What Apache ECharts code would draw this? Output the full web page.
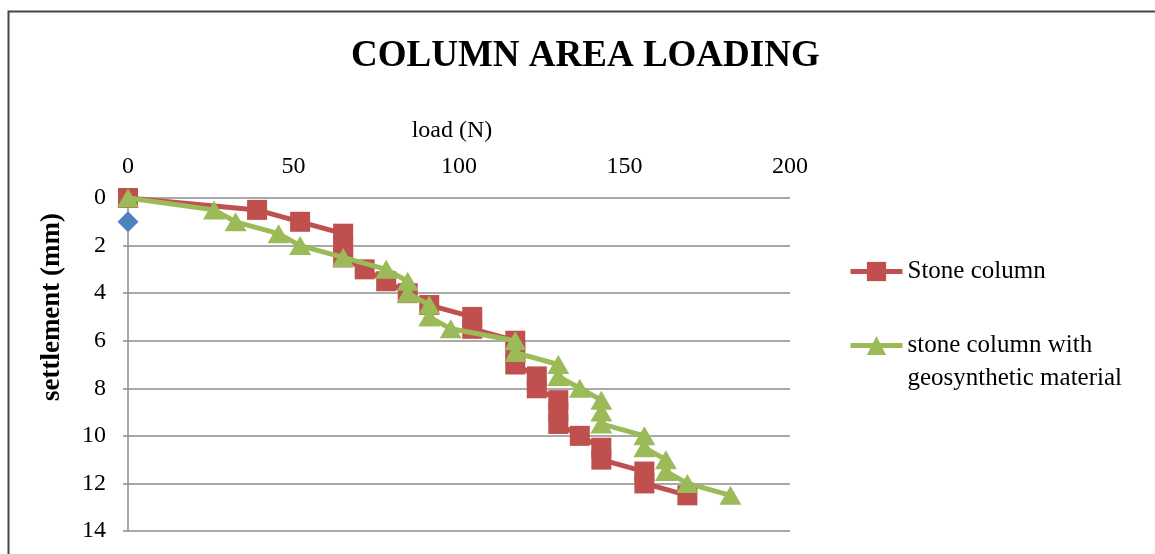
<!DOCTYPE html>
<html>
<head>
<meta charset="utf-8">
<script src="https://cdn.jsdelivr.net/npm/echarts@6/dist/echarts.min.js"></script>
<style>
  html, body { margin: 0; padding: 0; background: #fff; }
  #chart { width: 1155px; height: 554px; }
</style>
</head>
<body>
<div id="chart"></div>
<script>
// Settlement readings (mm), taken every 0.5 mm
const settlement = [0, 0.5, 1, 1.5, 2, 2.5, 3, 3.5, 4, 4.5, 5, 5.5, 6, 6.5, 7, 7.5, 8, 8.5, 9, 9.5, 10, 10.5, 11, 11.5, 12, 12.5];
// Load (N) for the plain stone column
const loadStone = [0, 39, 52, 65, 65, 65, 71.5, 78, 84.5, 91, 104, 104, 117, 117, 117, 123.5, 123.5, 130, 130, 130, 136.5, 143, 143, 156, 156, 169];
// Load (N) for the stone column with geosynthetic material
const loadGeo = [0, 26, 32.5, 45.5, 52, 65, 78, 84.5, 84.5, 91, 91, 97.5, 117, 117, 130, 130, 136.5, 143, 143, 143, 156, 156, 162.5, 162.5, 169, 182];
// Single reference point
const refLoad = [0];
const refSettlement = [1];

const nameStone = 'Stone column';
const nameGeo = 'stone column with\ngeosynthetic material';

const pairs = (xs, ys) => xs.map((x, i) => [x, ys[i]]);

const serif = '"Liberation Serif", "Times New Roman", serif';
const gridColor = '#8c8c8c';
const red = '#c0504d';
const green = '#9bbb59';
const blue = '#4f81bd';

const chart = echarts.init(document.getElementById('chart'));
chart.setOption({
  backgroundColor: '#ffffff',
  animation: false,
  title: {
    text: 'COLUMN AREA LOADING',
    left: 346,
    top: 33,
    textStyle: { fontFamily: serif, fontSize: 37, fontWeight: 'bold', color: '#000' }
  },
  graphic: [{
    type: 'rect',
    shape: { x: 8.5, y: 11.5, width: 1300, height: 700 },
    style: { fill: 'none', stroke: '#454545', lineWidth: 2 },
    silent: true,
    z: -1
  }],
  legend: [{
    data: [nameStone],
    orient: 'vertical',
    left: 843,
    top: 254,
    itemWidth: 52,
    itemHeight: 24,
    lineStyle: { width: 5 },
    textStyle: { fontFamily: serif, fontSize: 25, color: '#000' }
  }, {
    data: [nameGeo],
    orient: 'vertical',
    left: 843,
    top: 291,
    itemWidth: 52,
    itemHeight: 24,
    lineStyle: { width: 5 },
    // leading blank line keeps the icon level with the first text line
    formatter: n => '\n' + n,
    textStyle: { fontFamily: serif, fontSize: 25, color: '#000', lineHeight: 33 }
  }],
  grid: { left: 128, right: 365, top: 198, bottom: 23, containLabel: false },
  xAxis: {
    type: 'value',
    position: 'top',
    min: 0,
    max: 200,
    interval: 50,
    name: 'load (N)',
    nameLocation: 'middle',
    nameGap: 55,
    nameTextStyle: { fontFamily: serif, fontSize: 24, color: '#000', padding: [0, 14, 0, 0] },
    axisLine: { show: false },
    axisTick: { show: false },
    splitLine: { show: false },
    axisLabel: { fontFamily: serif, fontSize: 24, color: '#000', margin: 19 }
  },
  yAxis: {
    type: 'value',
    inverse: true,
    min: 0,
    max: 14,
    interval: 2,
    name: 'settlement (mm)',
    nameLocation: 'middle',
    nameGap: 62,
    nameRotate: 90,
    nameTextStyle: { fontFamily: serif, fontSize: 27, fontWeight: 'bold', color: '#000', padding: [0, 0, 0, 115] },
    axisLine: { show: true, lineStyle: { color: gridColor, width: 1.5 } },
    axisTick: { show: true, inside: false, length: 5, lineStyle: { color: gridColor, width: 1.5 } },
    splitLine: { show: true, lineStyle: { color: gridColor, width: 1.5 } },
    axisLabel: { fontFamily: serif, fontSize: 24, color: '#000', margin: 22 }
  },
  series: [{
    name: nameStone,
    type: 'line',
    data: pairs(loadStone, settlement),
    symbol: 'rect',
    symbolSize: 20,
    lineStyle: { color: red, width: 5 },
    itemStyle: { color: red },
    z: 2
  }, {
    name: nameGeo,
    type: 'line',
    data: pairs(loadGeo, settlement),
    symbol: 'triangle',
    symbolSize: [22, 19],
    lineStyle: { color: green, width: 5 },
    itemStyle: { color: green },
    z: 3
  }, {
    name: 'reference',
    type: 'line',
    data: pairs(refLoad, refSettlement),
    symbol: 'diamond',
    symbolSize: 21,
    showSymbol: true,
    lineStyle: { color: blue, width: 0 },
    itemStyle: { color: blue },
    z: 4
  }]
});
</script>
</body>
</html>
